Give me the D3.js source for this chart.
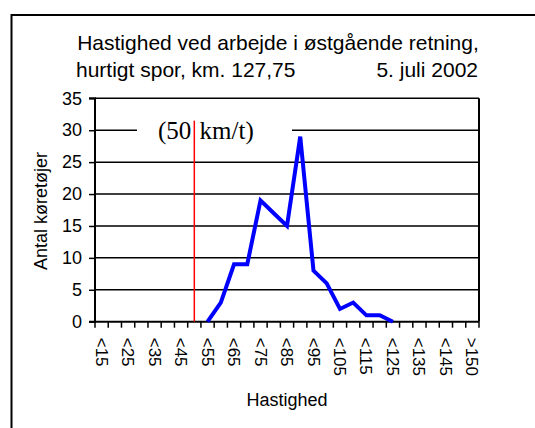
<!DOCTYPE html>
<html>
<head>
<meta charset="utf-8">
<script src="https://cdn.jsdelivr.net/npm/d3@7"></script>
<style>
  html, body { margin: 0; padding: 0; background: #fff; }
  svg { display: block; }
  text { font-family: "Liberation Sans", Arial, sans-serif; fill: #000; }
</style>
</head>
<body>
<svg id="chart" width="535" height="428"></svg>
<script>
// ---- Data ----
const categories = ["<15","<20","<25","<30","<35","<40","<45","<50","<55","<60","<65","<70","<75","<80","<85","<90","<95","<100","<105","<110","<115","<120","<125","<130","<135","<140","<145","<150",">150"];
const counts = [null,null,null,null,null,null,null,null,0,3,9,9,19,17,15,29,8,6,2,3,1,1,0,null,null,null,null,null,null];
const yTicks = [0,5,10,15,20,25,30,35];
const labelledCategories = ["<15","<25","<35","<45","<55","<65","<75","<85","<95","<105","<115","<125","<135","<145",">150"];
const titleLine1 = "Hastighed ved arbejde i østgående retning,";
const titleLine2Left = "hurtigt spor, km. 127,75";
const titleLine2Right = "5. juli 2002";
const yTitle = "Antal køretøjer";
const xTitle = "Hastighed";
const limitCategory = "<50";
const limitLabel = "(50 km/t)";

// ---- Layout ----
const svg = d3.select("#chart");
const pLeft = 95, pRight = 479, pTop = 98.3, pBottom = 321.7;

const x = d3.scaleBand().domain(categories).range([pLeft, pRight]).paddingInner(0).paddingOuter(0);
const y = d3.scaleLinear().domain([0, 35]).range([pBottom, pTop]);
const cx = c => x(c) + x.bandwidth() / 2;

// outer frame
svg.append("rect").attr("x", 11.5).attr("y", 15).attr("width", 540).attr("height", 430)
  .attr("fill", "none").attr("stroke", "#000").attr("stroke-width", 2);

// title
svg.append("text").attr("x", 278).attr("y", 50).attr("text-anchor", "middle")
  .style("font-size", "21px").text(titleLine1);
svg.append("text").attr("x", 76).attr("y", 77).attr("text-anchor", "start")
  .style("font-size", "21px").text(titleLine2Left);
svg.append("text").attr("x", 478).attr("y", 77).attr("text-anchor", "end")
  .style("font-size", "21px").text(titleLine2Right);

// gridlines (including top border at 35)
svg.append("g").selectAll("line").data(yTicks.filter(d => d > 0)).join("line")
  .attr("x1", pLeft).attr("x2", pRight)
  .attr("y1", d => y(d)).attr("y2", d => y(d))
  .attr("stroke", "#000").attr("stroke-width", 1.5);

// right border
svg.append("line").attr("x1", pRight).attr("x2", pRight).attr("y1", pTop).attr("y2", pBottom)
  .attr("stroke", "#000").attr("stroke-width", 2);

// y axis
const yAxis = d3.axisLeft(y).tickValues(yTicks).tickSize(6).tickPadding(7);
const gy = svg.append("g").attr("transform", `translate(${pLeft},0)`).call(yAxis);
gy.select(".domain").attr("stroke", "#000").attr("stroke-width", 2).attr("d", `M-6,${pTop}H0V${pBottom}H-6`);
gy.selectAll(".tick line").attr("stroke", "#000").attr("stroke-width", 1.5);
gy.selectAll(".tick text").style("font-size", "18px")
  .style("font-family", '"Liberation Sans", Arial, sans-serif').attr("fill", "#000");

// x axis baseline + ticks at category boundaries
const boundaries = d3.range(categories.length + 1).map(i => pLeft + i * x.step());
svg.append("line").attr("x1", pLeft).attr("x2", pRight).attr("y1", pBottom).attr("y2", pBottom)
  .attr("stroke", "#000").attr("stroke-width", 2);
svg.append("g").selectAll("line").data(boundaries).join("line")
  .attr("x1", d => d).attr("x2", d => d).attr("y1", pBottom).attr("y2", pBottom + 6)
  .attr("stroke", "#000").attr("stroke-width", 1.5);

// x tick labels rotated
svg.append("g").selectAll("text").data(labelledCategories).join("text")
  .attr("transform", d => `translate(${cx(d)},${pBottom + 16}) rotate(90)`)
  .attr("dy", "0.35em").attr("text-anchor", "start")
  .style("font-size", "17px").text(d => d);

// axis titles
svg.append("text").attr("transform", `translate(47,211) rotate(-90)`)
  .attr("text-anchor", "middle").style("font-size", "18px").text(yTitle);
svg.append("text").attr("x", (pLeft + pRight) / 2).attr("y", 406)
  .attr("text-anchor", "middle").style("font-size", "18px").text(xTitle);

// limit label box (covers the 30 gridline)
svg.append("rect").attr("x", 137).attr("y", y(30) - 14).attr("width", 155).attr("height", 26)
  .attr("fill", "#fff");
svg.append("text").attr("x", 158).attr("y", 139)
  .style("font-family", '"Liberation Serif", "Times New Roman", serif')
  .style("word-spacing", "2px")
  .style("font-size", "25px").text(limitLabel);

// red limit line
svg.append("line").attr("x1", cx(limitCategory)).attr("x2", cx(limitCategory))
  .attr("y1", y(31.5)).attr("y2", pBottom)
  .attr("stroke", "#ff0000").attr("stroke-width", 1.5);

// data line
const pts = categories.map((c, i) => ({ c, v: counts[i] }));
const line = d3.line().defined(d => d.v !== null).x(d => cx(d.c)).y(d => y(d.v));
svg.append("path").datum(pts).attr("d", line)
  .attr("fill", "none").attr("stroke", "#0000ff").attr("stroke-width", 4)
  .attr("stroke-linejoin", "miter");
</script>
</body>
</html>
